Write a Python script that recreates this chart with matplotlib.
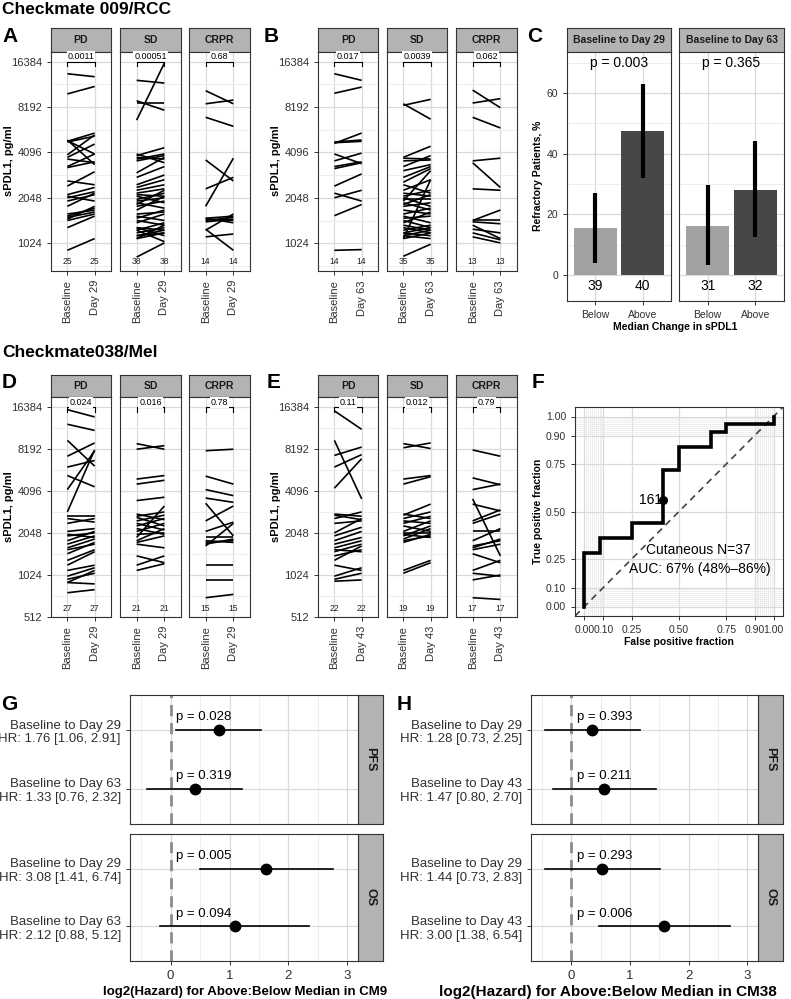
import numpy as np
import matplotlib
matplotlib.use('Agg')
import matplotlib.pyplot as plt
from matplotlib.ticker import FixedLocator, NullFormatter

plt.rcParams['font.family'] = ['Liberation Sans', 'DejaVu Sans']

# ---------------- DATA ----------------
# Panel A: Checkmate 009/RCC, Baseline vs Day 29 (sPDL1 pg/ml)
A_PD_base = [13600, 10000, 4850, 4800, 4900, 4950, 3950, 3800, 3700, 3250, 3300, 2450, 2650,
             2150, 2050, 1950, 2100, 1800, 1600, 1550, 1520, 1480, 1450, 1300, 920]
A_PD_day = [13000, 11200, 5500, 5250, 4000, 3400, 5350, 4650, 3500, 3550, 4000, 3050, 2500,
            2400, 2250, 2150, 1950, 2200, 1700, 1750, 1650, 1800, 1600, 1550, 1100]
A_SD_base = [6700, 12300, 8700, 9000, 3900, 3700, 3600, 4000, 3800, 3000, 2800, 2500, 2400, 2300,
             2200, 2150, 2100, 2000, 1950, 1900, 1850, 1800, 1700, 1600, 1550, 1500, 1450, 1400,
             1300, 1250, 1200, 1150, 1150, 1100, 1100, 1250, 1300, 830]
A_SD_day = [16000, 11800, 8700, 7800, 4400, 4000, 3900, 3500, 3700, 3800, 3300, 2900, 2700, 2500,
            2350, 2100, 1900, 2200, 2050, 1750, 2300, 1950, 2100, 1650, 1450, 1700, 1350, 1600,
            1250, 1400, 1300, 1250, 1200, 1350, 1200, 1050, 1150, 1030]
A_CR_base = [10500, 8600, 7000, 3650, 2350, 1800, 1500, 1480, 1450, 1420, 1270, 1130, 1250, 1500]
A_CR_day = [8600, 9100, 6100, 2650, 2800, 3750, 1550, 1450, 1520, 1480, 920, 1180, 1600, 1400]
A_p = ["0.0011", "0.00051", "0.68"]

# Panel B: Baseline vs Day 63
B_PD_base = [13600, 10100, 4700, 4800, 4750, 4000, 3600, 3300, 3200, 2450, 2200, 2050, 1560, 920]
B_PD_day = [12300, 11100, 5500, 4950, 4850, 3450, 4050, 3550, 3500, 2950, 1950, 2300, 1850, 930]
B_SD_base = [8400, 8600, 3800, 3750, 3600, 3300, 3100, 2800, 2600, 2500, 2300, 2200, 2100, 2050,
             2000, 1950, 1900, 1850, 1800, 1700, 1600, 1550, 1500, 1450, 1400, 1350, 1300, 1250,
             1200, 1200, 1150, 1150, 1100, 1100, 840]
B_SD_day = [9200, 6800, 4500, 3700, 3650, 3900, 3400, 3300, 3200, 2200, 2700, 2100, 2300, 1800,
            2000, 3100, 1700, 2150, 1900, 1600, 1750, 1400, 1550, 1300, 1650, 1250, 1200, 1350,
            1300, 1150, 1250, 1100, 1200, 2700, 1010]
B_CR_base = [10600, 8700, 7000, 3600, 3500, 2350, 1450, 1450, 1420, 1270, 1200, 1130, 1350]
B_CR_day = [8100, 9300, 5950, 3750, 2400, 2300, 1700, 1450, 1380, 1200, 1080, 1030, 1100]
B_p = ["0.017", "0.0039", "0.062"]

# Panel C: refractory patients by median change
C_facets = ["Baseline to Day 29", "Baseline to Day 63"]
C_groups = ["Below", "Above"]
C_pct = [[15.4, 47.5], [16.1, 28.1]]
C_lo = [[4.0, 32.0], [3.2, 12.5]]
C_hi = [[27.0, 63.0], [29.5, 44.0]]
C_n = [[39, 40], [31, 32]]
C_p = ["p = 0.003", "p = 0.365"]

# Panel D: Checkmate038/Mel, Baseline vs Day 29
D_PD_base = [15800, 12400, 9500, 7300, 6100, 5300, 4200, 2900, 2700, 2600, 2400, 2100, 2000, 1950,
             1800, 1700, 1600, 1550, 1450, 1300, 1200, 1100, 1000, 950, 900, 900, 760]
D_PD_day = [14000, 11200, 6200, 9100, 6800, 4400, 8000, 8100, 2700, 2450, 2600, 2200, 1900, 2050,
            2100, 1950, 1850, 1700, 1750, 1550, 1500, 1200, 1150, 1050, 1100, 880, 800]
D_SD_base = [9000, 8200, 5000, 4600, 3500, 2800, 2700, 2650, 2500, 2400, 2300, 2200, 2100, 2000,
             1900, 1800, 1750, 1700, 1400, 1200, 1100]
D_SD_day = [8200, 8700, 5300, 4900, 3700, 2550, 2900, 2300, 2750, 2150, 2600, 2000, 2400, 2050,
            3200, 2200, 1950, 1600, 1250, 1400, 1230]
D_CR_base = [8000, 5250, 4200, 3650, 3350, 2500, 2100, 1900, 1750, 1700, 1800, 1650, 1200, 940, 700]
D_CR_day = [8200, 4600, 3800, 3400, 1950, 3200, 2450, 1900, 1800, 1850, 1750, 2400, 1200, 940, 740]
D_p = ["0.024", "0.016", "0.78"]

# Panel E: Baseline vs Day 43
E_PD_base = [15500, 9500, 7400, 6100, 4300, 2800, 2750, 2600, 2400, 2050, 1950, 1800, 1700, 1600,
             1550, 1500, 1400, 1300, 1200, 1000, 950, 920]
E_PD_day = [11400, 3600, 8500, 7500, 7000, 2700, 2550, 2900, 2500, 2600, 2250, 2100, 1900, 1800,
            1500, 1700, 1550, 1650, 1100, 1150, 1050, 940]
E_SD_base = [9000, 8400, 5000, 4600, 2800, 2750, 2600, 2500, 2400, 2300, 2100, 2050, 2000, 1950,
             1850, 1800, 1750, 1100, 1050]
E_SD_day = [8300, 9100, 5300, 5200, 2600, 3300, 2900, 2400, 2700, 2100, 2500, 2050, 1900, 2300,
            2200, 1950, 2000, 1300, 1250]
E_CR_base = [8100, 5100, 4200, 3600, 3300, 2500, 2400, 2100, 1800, 1650, 1600, 1550, 1450, 1100,
             1050, 940, 700]
E_CR_day = [7300, 4550, 4600, 1400, 2950, 3000, 2800, 2100, 2200, 1800, 1850, 1700, 1250, 1300,
            1000, 1020, 680]
E_p = ["0.11", "0.012", "0.79"]

# Panel F: ROC curve
F_fpr = [0.0, 0.0, 0.083, 0.083, 0.25, 0.25, 0.417, 0.417, 0.5, 0.5, 0.667, 0.667, 0.75, 0.75, 1.0, 1.0]
F_tpr = [0.0, 0.28, 0.28, 0.36, 0.36, 0.44, 0.44, 0.72, 0.72, 0.84, 0.84, 0.92, 0.92, 0.96, 0.96, 1.0]
F_cut = (0.417, 0.56)
F_cut_label = "161"
F_text = ["Cutaneous N=37", "AUC: 67% (48%\u201386%)"]
F_breaks = [0.0, 0.10, 0.25, 0.50, 0.75, 0.90, 1.00]

# Panels G, H: hazard ratios
G_rows = ["Baseline to Day 29", "Baseline to Day 63"]
G_HR = {"PFS": [(1.76, 1.06, 2.91), (1.33, 0.76, 2.32)],
        "OS": [(3.08, 1.41, 6.74), (2.12, 0.88, 5.12)]}
G_pv = {"PFS": ["0.028", "0.319"], "OS": ["0.005", "0.094"]}
H_rows = ["Baseline to Day 29", "Baseline to Day 43"]
H_HR = {"PFS": [(1.28, 0.73, 2.25), (1.47, 0.80, 2.70)],
        "OS": [(1.44, 0.73, 2.83), (3.00, 1.38, 6.54)]}
H_pv = {"PFS": ["0.393", "0.211"], "OS": ["0.293", "0.006"]}

# ---------------- STYLE ----------------
W, H = 791, 999
fig = plt.figure(figsize=(W / 100, H / 100), dpi=100)

GRID_MAJ = '#DADADA'
GRID_MIN = '#EBEBEB'
FRAME = '#333333'
TXT = '#303030'
STRIP = '#B3B3B3'


def rect(x0, y0, x1, y1):
    return [x0 / W, 1 - y1 / H, (x1 - x0) / W, (y1 - y0) / H]


def frame(ax):
    for s in ax.spines.values():
        s.set_color(FRAME)
        s.set_linewidth(0.8)
    ax.tick_params(which='major', color=FRAME, width=0.7, length=3, labelcolor=TXT)
    ax.tick_params(which='minor', length=0)
    ax.set_axisbelow(True)


def strip(x0, y0, x1, y1, text, fs=7.5, rot=0):
    sa = fig.add_axes(rect(x0, y0, x1, y1))
    sa.set_facecolor(STRIP)
    sa.set_xticks([])
    sa.set_yticks([])
    for s in sa.spines.values():
        s.set_color(FRAME)
        s.set_linewidth(0.8)
    sa.text(0.5, 0.5, text, ha='center', va='center', fontsize=fs, fontweight='bold',
            rotation=rot, color='#1A1A1A', transform=sa.transAxes)


def letter(x, y, s):
    fig.text(x / W, 1 - y / H, s, fontsize=15, fontweight='bold', ha='left', va='center')


def spaghetti(xs, ytop, ybot, strip_top, series, pvals, day_label, ylims, yticks, count_y):
    for i, ((x0, x1), (base, day), pv) in enumerate(zip(xs, series, pvals)):
        strip(x0, strip_top, x1, ytop, ["PD", "SD", "CRPR"][i])
        ax = fig.add_axes(rect(x0, ytop, x1, ybot))
        ax.set_yscale('log', base=2)
        ax.set_xlim(0.4, 2.6)
        ax.set_ylim(*ylims)
        ax.yaxis.set_major_locator(FixedLocator(yticks))
        ax.yaxis.set_minor_locator(FixedLocator([t * np.sqrt(2) for t in [yticks[0] / 2] + yticks]))
        ax.yaxis.set_minor_formatter(NullFormatter())
        ax.set_yticklabels([str(int(t)) for t in yticks])
        ax.set_xticks([1, 2])
        ax.set_xticklabels(["Baseline", day_label], rotation=90, fontsize=8)
        ax.tick_params(axis='y', labelsize=8)
        frame(ax)
        ax.grid(True, which='major', color=GRID_MAJ, lw=0.9)
        ax.grid(True, which='minor', axis='y', color=GRID_MIN, lw=0.6)
        if i > 0:
            ax.tick_params(axis='y', which='both', left=False, labelleft=False)
        for b, d in zip(base, day):
            ax.plot([1, 2], [b, d], color='black', lw=1.2, solid_capstyle='butt')
        ax.text(1, count_y, str(len(base)), ha='center', va='center', fontsize=6.2, color='#222222')
        ax.text(2, count_y, str(len(day)), ha='center', va='center', fontsize=6.2, color='#222222')
        top = 2 ** 14
        ax.plot([1, 1, 2, 2], [2 ** 13.9, top, top, 2 ** 13.9], color='black', lw=0.8)
        ax.text(1.5, 2 ** 14.12, pv, ha='center', va='center', fontsize=6.5,
                bbox=dict(boxstyle='square,pad=0.1', fc='white', ec='none'))


# ---------------- TITLES ----------------
fig.text(2 / W, 1 - 9 / H, "Checkmate 009/RCC", fontsize=12.5, fontweight='bold', ha='left', va='center')
fig.text(2 / W, 1 - 353 / H, "Checkmate038/Mel", fontsize=12.5, fontweight='bold', ha='left', va='center')

# ---------------- A, B ----------------
xsA = [(51, 111), (120, 181), (189, 250)]
xsB = [(318, 378), (387, 447), (456, 517)]
ticksAB = [1024, 2048, 4096, 8192, 16384]
spaghetti(xsA, 52, 271, 28, [(A_PD_base, A_PD_day), (A_SD_base, A_SD_day), (A_CR_base, A_CR_day)],
          A_p, "Day 29", (2 ** 9.39, 2 ** 14.21), ticksAB, 2 ** 9.6)
spaghetti(xsB, 52, 271, 28, [(B_PD_base, B_PD_day), (B_SD_base, B_SD_day), (B_CR_base, B_CR_day)],
          B_p, "Day 63", (2 ** 9.39, 2 ** 14.21), ticksAB, 2 ** 9.6)
letter(2, 36, "A")
letter(264, 36, "B")
for xl in (9, 276):
    fig.text(xl / W, 1 - 161 / H, "sPDL1, pg/ml", rotation=90, fontsize=8, fontweight='bold',
             ha='center', va='center')

# ---------------- D, E ----------------
ticksDE = [512, 1024, 2048, 4096, 8192, 16384]
spaghetti(xsA, 397, 617, 375, [(D_PD_base, D_PD_day), (D_SD_base, D_SD_day), (D_CR_base, D_CR_day)],
          D_p, "Day 29", (2 ** 8.99, 2 ** 14.25), ticksDE, 2 ** 9.2)
spaghetti(xsB, 397, 617, 375, [(E_PD_base, E_PD_day), (E_SD_base, E_SD_day), (E_CR_base, E_CR_day)],
          E_p, "Day 43", (2 ** 8.99, 2 ** 14.25), ticksDE, 2 ** 9.2)
letter(2, 383, "D")
letter(267, 383, "E")
for xl in (9, 276):
    fig.text(xl / W, 1 - 507 / H, "sPDL1, pg/ml", rotation=90, fontsize=8, fontweight='bold',
             ha='center', va='center')

# ---------------- C ----------------
letter(527, 37, "C")
for j, (x0, x1) in enumerate([(567, 671), (679, 784)]):
    strip(x0, 28, x1, 52, C_facets[j], fs=7.5)
    ax = fig.add_axes(rect(x0, 52, x1, 301))
    ax.set_xlim(0.4, 2.6)
    ax.set_ylim(-8.6, 73.5)
    xs = [1, 2]
    ax.bar(xs, C_pct[j], width=0.9, color=['#A2A2A2', '#474747'], zorder=2)
    ax.vlines(xs, C_lo[j], C_hi[j], color='black', lw=3.0, zorder=3)
    for x, n in zip(xs, C_n[j]):
        ax.text(x, -3.8, str(n), ha='center', va='center', fontsize=10, color='black')
    ax.text(1.5, 70, C_p[j], ha='center', va='center', fontsize=10, color='black')
    ax.set_xticks(xs)
    ax.set_xticklabels(C_groups, fontsize=7.5)
    ax.set_yticks([0, 20, 40, 60])
    ax.yaxis.set_minor_locator(FixedLocator([10, 30, 50, 70]))
    ax.tick_params(axis='y', labelsize=7.5)
    frame(ax)
    ax.grid(True, which='major', color=GRID_MAJ, lw=0.9)
    ax.grid(True, which='minor', axis='y', color=GRID_MIN, lw=0.6)
    if j > 0:
        ax.tick_params(axis='y', which='both', left=False, labelleft=False)
fig.text(538 / W, 1 - 176 / H, "Refractory Patients, %", rotation=90, fontsize=7.5,
         fontweight='bold', ha='center', va='center')
fig.text(675 / W, 1 - 327 / H, "Median Change in sPDL1", fontsize=7.5, fontweight='bold',
         ha='center', va='center')

# ---------------- F ----------------
letter(532, 383, "F")
ax = fig.add_axes(rect(575, 407, 783, 616))
ax.set_xlim(-0.05, 1.05)
ax.set_ylim(-0.05, 1.05)
minor = [round(0.01 * k, 2) for k in range(0, 11)] + [round(0.9 + 0.01 * k, 2) for k in range(0, 11)]
ax.set_xticks(F_breaks)
ax.set_yticks(F_breaks)
ax.set_xticklabels(["%.2f" % b for b in F_breaks], fontsize=7.5)
ax.set_yticklabels(["%.2f" % b for b in F_breaks], fontsize=7.5)
ax.xaxis.set_minor_locator(FixedLocator(minor))
ax.yaxis.set_minor_locator(FixedLocator(minor))
frame(ax)
ax.grid(True, which='major', color=GRID_MAJ, lw=0.9)
ax.grid(True, which='minor', color=GRID_MIN, lw=0.6)
ax.axline((0, 0), (1, 1), color='#444444', lw=1.2, ls=(0, (4, 3)))
ax.plot(F_fpr, F_tpr, color='black', lw=2.6, solid_joinstyle='miter')
ax.plot([F_cut[0]], [F_cut[1]], 'o', color='black', ms=5.5)
ax.text(F_cut[0] - 0.005, F_cut[1], F_cut_label, ha='right', va='center', fontsize=10)
ax.text(0.6, 0.295, F_text[0], ha='center', va='center', fontsize=10)
ax.text(0.61, 0.2, F_text[1], ha='center', va='center', fontsize=10)
fig.text(538 / W, 1 - 511 / H, "True positive fraction", rotation=90, fontsize=7.5,
         fontweight='bold', ha='center', va='center')
fig.text(679 / W, 1 - 642 / H, "False positive fraction", fontsize=7.5, fontweight='bold',
         ha='center', va='center')


# ---------------- G, H ----------------
def forest(x0, x1, sx1, rows, hr, pv, xlabel, xl_center, xl_size):
    panels = [("PFS", 695, 824), ("OS", 834, 961)]
    for k, (name, y0, y1) in enumerate(panels):
        strip(x1, y0, sx1, y1, name, fs=9, rot=-90)
        ax = fig.add_axes(rect(x0, y0, x1, y1))
        ax.set_xlim(-0.69, 3.18)
        ax.set_ylim(0.4, 2.6)
        ys = [2, 1]
        for yy, (h, lo, hi), p in zip(ys, hr[name], pv[name]):
            ax.plot([np.log2(lo), np.log2(hi)], [yy, yy], color='black', lw=1.2, zorder=3)
            ax.plot([np.log2(h)], [yy], 'o', color='black', ms=7.5, zorder=4)
            ax.text(0.09, yy + 0.22, "p = " + p, ha='left', va='center', fontsize=9.5)
        ax.axvline(0, color='#8C8C8C', lw=2.0, ls=(0, (4, 2.5)), zorder=2)
        ax.set_yticks(ys)
        ax.set_yticklabels(["%s\nHR: %.2f [%.2f, %.2f]" % (r, h[0], h[1], h[2])
                            for r, h in zip(rows, hr[name])], fontsize=9.5, ha='right')
        ax.set_xticks([0, 1, 2, 3])
        ax.xaxis.set_minor_locator(FixedLocator([-0.5, 0.5, 1.5, 2.5]))
        frame(ax)
        ax.tick_params(axis='both', labelsize=9.5)
        ax.grid(True, which='major', color=GRID_MAJ, lw=0.9)
        ax.grid(True, which='minor', axis='x', color=GRID_MIN, lw=0.6)
        if k == 0:
            ax.tick_params(axis='x', which='both', bottom=False, labelbottom=False)
    fig.text(xl_center / W, 1 - 992 / H, xlabel, fontsize=xl_size, fontweight='bold',
             ha='center', va='center')


forest(130, 358, 383, G_rows, G_HR, G_pv, "log2(Hazard) for Above:Below Median in CM9", 245, 9.5)
forest(531, 758, 783, H_rows, H_HR, H_pv, "log2(Hazard) for Above:Below Median in CM38", 608, 11)
letter(1, 705, "G")
letter(397, 705, "H")

fig.savefig("out.png", dpi=100)
